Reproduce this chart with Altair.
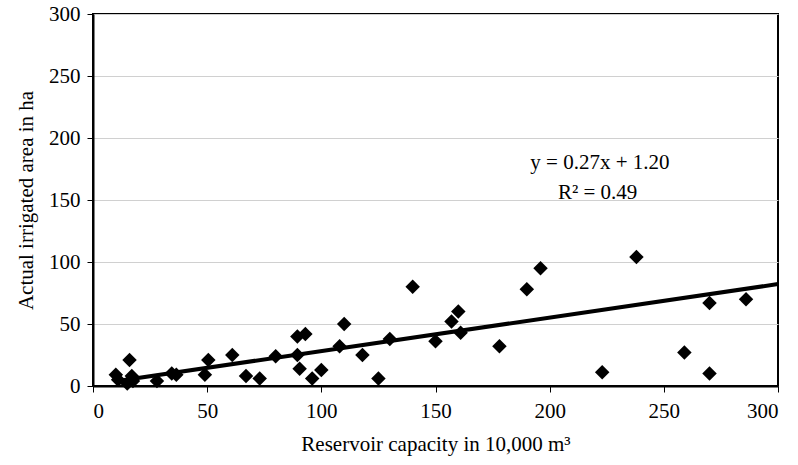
import altair as alt
import pandas as pd

capacity = [10, 11, 15, 16, 17, 17.5, 28, 34.5, 36.5, 49, 50.5, 61, 67, 73, 80,
            89.5, 89.5, 90.5, 93, 96, 100, 108, 110, 118, 125, 130, 140, 150,
            157, 160, 161, 178, 190, 196, 223, 238, 259, 270, 270, 286]
area = [9, 5, 2, 21, 8, 4, 4, 10, 9, 9, 21, 25, 8, 6, 24,
        40, 25, 14, 42, 6, 13, 32, 50, 25, 6, 38, 80, 36,
        52, 60, 43, 32, 78, 95, 11, 104, 27, 67, 10, 70]

slope, intercept = 0.27, 1.20
line_x = [min(capacity), 300]
line_y = [slope * v + intercept for v in line_x]

pts = pd.DataFrame({"x": capacity, "y": area})
ln = pd.DataFrame({"x": line_x, "y": line_y})
eq = pd.DataFrame({"x": [222, 221], "y": [180, 156],
                   "t": ["y = 0.27x + 1.20", "R² = 0.49"]})

FONT = "Liberation Serif"
FS = 21
xs = alt.Scale(domain=[0, 300], nice=False, zero=False)
ys = alt.Scale(domain=[0, 300], nice=False, zero=False)

xaxis = alt.Axis(values=[0, 50, 100, 150, 200, 250, 300], grid=False,
                 title="Reservoir capacity in 10,000 m³", titleFont=FONT,
                 titleFontSize=FS, titleFontWeight="normal", titleColor="black",
                 labelFont=FONT, labelFontSize=FS, labelColor="black",
                 tickColor="black", tickSize=6, domainColor="black", domainWidth=2,
                 labelPadding=8, titlePadding=12)
yaxis = alt.Axis(values=[0, 50, 100, 150, 200, 250, 300], grid=True,
                 gridColor="#d0d0d0", gridWidth=1,
                 title="Actual irrigated area in ha", titleFont=FONT,
                 titleFontSize=FS, titleFontWeight="normal", titleColor="black",
                 labelFont=FONT, labelFontSize=FS, labelColor="black",
                 tickColor="black", tickSize=6, domainColor="black", domainWidth=2,
                 labelPadding=7, titlePadding=12)

points = alt.Chart(pts).mark_point(shape="diamond", filled=True, color="black",
                                   size=210, opacity=1).encode(
    x=alt.X("x:Q", scale=xs, axis=xaxis),
    y=alt.Y("y:Q", scale=ys, axis=yaxis),
)
line = alt.Chart(ln).mark_line(color="black", strokeWidth=4).encode(
    x=alt.X("x:Q", scale=xs), y=alt.Y("y:Q", scale=ys))
text = alt.Chart(eq).mark_text(font=FONT, fontSize=FS, color="black",
                               align="center").encode(
    x=alt.X("x:Q", scale=xs), y=alt.Y("y:Q", scale=ys), text="t:N")

chart = alt.layer(line, points, text).properties(
    width=685, height=372,
    autosize=alt.AutoSizeParams(type="none"),
    padding={"left": 93, "top": 14, "right": 20, "bottom": 79},
    background="white",
).configure_view(stroke="black", strokeWidth=2)

chart.save("out.html", embed_options={"renderer": "svg", "actions": False})
